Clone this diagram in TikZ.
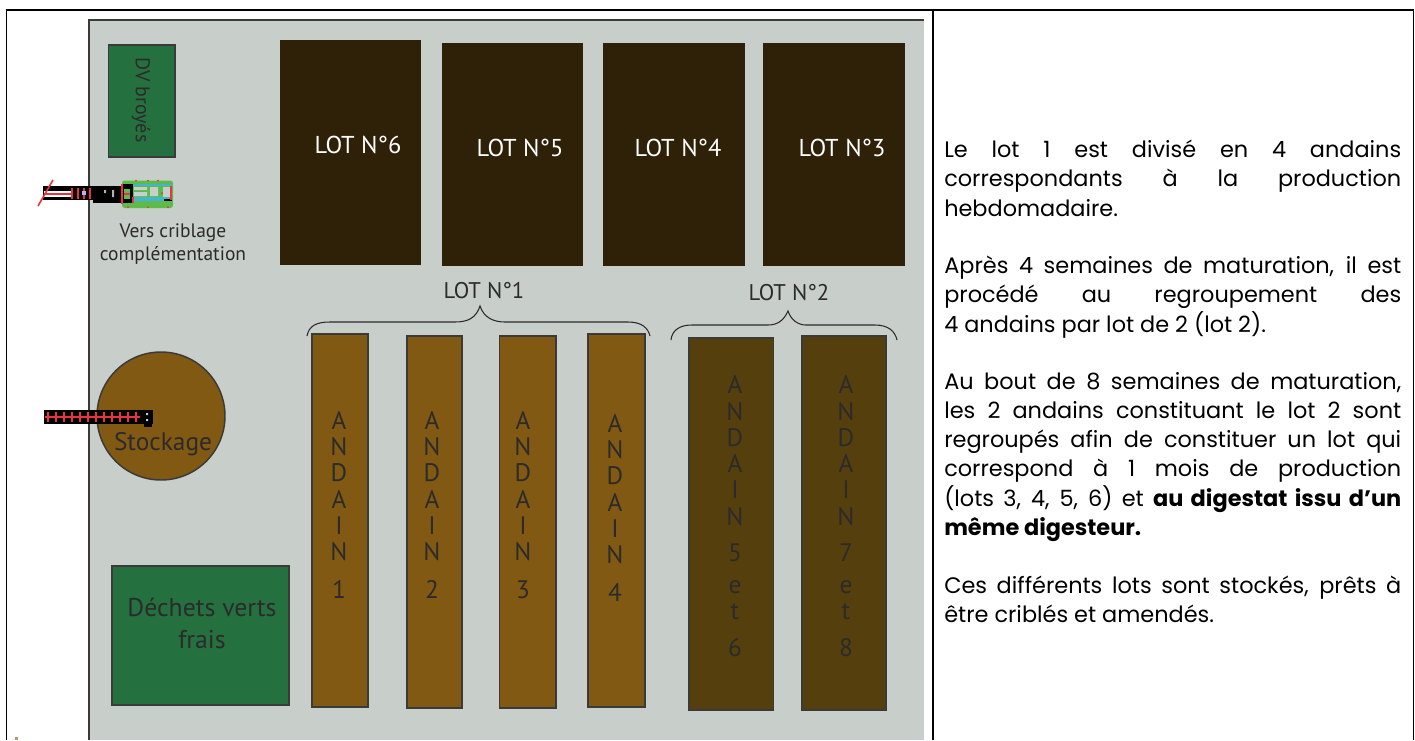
\documentclass[tikz,border=0pt]{standalone}
\usepackage{fontspec}
\setmainfont{PT Sans}
\newfontfamily\notefont{Poppins}
\definecolor{panel}{HTML}{C8CEC9}
\definecolor{greenb}{HTML}{25703F}
\definecolor{darkl}{HTML}{2F2108}
\definecolor{brownA}{HTML}{825912}
\definecolor{brownB}{HTML}{55400D}
\definecolor{edge}{HTML}{3A3A38}
\definecolor{ink}{HTML}{2B2B2B}
\definecolor{vgreen}{HTML}{5DBB4A}
\definecolor{vcyan}{HTML}{45B5CE}
\definecolor{vred}{HTML}{E8343A}
\tikzset{
  shp/.style={draw=edge,line width=1.1pt},
  lottxt/.style={text=white,font=\fontsize{18.3}{20}\selectfont},
  lab/.style={text=ink,font=\fontsize{15.5}{18}\selectfont,align=center},
  vert/.style={text=ink,font=\fontsize{19}{19.7}\selectfont,align=center,anchor=north,inner sep=0pt},
  vertd/.style={vert,text=ink},
  note/.style={font=\notefont\fontsize{16.8}{21.9}\selectfont,text width=342.75pt,align=justify,anchor=north west,inner sep=0pt,text=black},
  brace/.style={draw=ink,line width=0.8pt},
  redtick/.style={draw=vred,line width=0.8pt}
}
\begin{document}
\begin{tikzpicture}[x=0.75pt,y=-0.75pt]
\useasboundingbox (0,0) rectangle (1415,740);
\fill[white] (0,0) rectangle (1415,740);
% panel
\fill[panel] (89,20) rectangle (924,740);
\draw[edge,line width=1pt] (89,740) -- (89,20) -- (924,20);
% table frame
\draw[black,line width=1.1pt] (6.5,740) -- (6.5,10) -- (1413.5,10) -- (1413.5,740);
\draw[black,line width=1.1pt] (933,10) -- (933,740);
\fill[brownA!60!white] (15,737) rectangle (18,740);
% top rectangles
\draw[shp,fill=greenb] (108.5,45) rectangle (175,157);
\node[rotate=-90,text=ink,font=\fontsize{15}{16}\selectfont] (dv) at (141,100) {DV broyés};
\fill[darkl] (279.5,40) rectangle (421,265);
\fill[darkl] (441.5,43) rectangle (583,266);
\fill[darkl] (602.5,43) rectangle (745,266);
\fill[darkl] (763,43) rectangle (905,266);
\node[lottxt] (l6) at (358,145) {LOT N°6};
\node[lottxt] (l5) at (520,148) {LOT N°5};
\node[lottxt] (l4) at (678,148) {LOT N°4};
\node[lottxt] (l3) at (842,148) {LOT N°3};
% lot labels & braces
\node[lab,font=\fontsize{17}{20}\selectfont] (lot1) at (484,291) {LOT N°1};
\node[lab,font=\fontsize{17}{20}\selectfont] (lot2) at (789,293) {LOT N°2};
\draw[brace] (307,336) .. controls (309,326) and (316,322) .. (330,322) -- (455,322) .. controls (468,322) and (476,318) .. (480,306) .. controls (484,318) and (494,322) .. (505,322) -- (628,322) .. controls (642,322) and (648,328) .. (650,336);
\draw[brace] (671,340) .. controls (672,330) and (680,325) .. (692,325) -- (768,325) .. controls (778,325) and (784,320) .. (788,311) .. controls (791,320) and (798,325) .. (806,325) -- (875,325) .. controls (888,325) and (895,331) .. (897,340);
% andains
\draw[shp,fill=brownA] (312,334) rectangle (368,707);
\draw[shp,fill=brownA] (407,336) rectangle (462,708);
\draw[shp,fill=brownA] (499.5,336) rectangle (556,708);
\draw[shp,fill=brownA] (588,334) rectangle (645,707);
\draw[shp,fill=brownB] (689,338) rectangle (773.5,710);
\draw[shp,fill=brownB] (802,336) rectangle (886,710);
\node[vert] (a1) at (339,411) {A\\N\\D\\A\\I\\N\\[9pt]1};
\node[vert] (a2) at (432,411) {A\\N\\D\\A\\I\\N\\[9pt]2};
\node[vert] (a3) at (523,411) {A\\N\\D\\A\\I\\N\\[9pt]3};
\node[vert] (a4) at (615,414) {A\\N\\D\\A\\I\\N\\[9pt]4};
\node[vertd] (a5) at (735,375.5) {A\\N\\D\\A\\I\\N\\[7.5pt]5\\[4.5pt]e\\t\\[7.5pt]6};
\node[vertd] (a7) at (846,375.5) {A\\N\\D\\A\\I\\N\\[7.5pt]7\\[4.5pt]e\\t\\[7.5pt]8};
% stockage and fresh waste
\draw[shp,fill=brownA] (161,416) circle[radius=64];
\node[lab,font=\fontsize{19}{22}\selectfont] (st) at (163,444) {Stockage};
\draw[shp,fill=greenb] (112,566) rectangle (289,705);
\node[lab,font=\fontsize{19.3}{24}\selectfont] (dvf) at (202,623) {Déchets verts\\frais};
\node[lab,font=\fontsize{14.6}{17}\selectfont] (vc) at (173,244) {Vers criblage\\complémentation};
% upper conveyor
\fill[black] (43,186) rectangle (122,200);
\fill[black] (93,186) rectangle (122,203);
\fill[white] (44,191) rectangle (72,193.5);
\fill[white] (44,195) rectangle (72,196.5);
\draw[vred,line width=1.2pt] (38,206) -- (53,180);
\draw[vred,line width=0.8pt] (44,194) -- (72,194);
\foreach \x in {72,78,84,90}{\draw[redtick] (\x,188) -- (\x,199);}
\fill[white!70!blue] (82,191) rectangle (86,195);
\fill[white!70!black] (104,190) rectangle (106,193) (112,190) rectangle (114,197);
% vehicle
\fill[vgreen,rounded corners=2pt] (122,180.5) rectangle (173,208);
\fill[black] (121,184) rectangle (133,203);
\fill[vgreen] (124,189) rectangle (130,199);
\fill[vred] (124,193) rectangle (130,195);
\fill[panel] (134,187) rectangle (147,190) (134,192) rectangle (147,196) (150,187) rectangle (158,196);
\fill[panel] (163,187) rectangle (170,199);
\fill[vcyan] (133,184) rectangle (172,186) (133,197) rectangle (172,201);
\fill[black] (164,199) rectangle (172,201);
\draw[redtick,line width=1pt] (122,184) -- (122,204) (133,197) -- (133,203) (171,186) -- (171,200);
\fill[vred] (136,180.5) circle[radius=1] (148,180.5) circle[radius=1] (158,180.5) circle[radius=1] (128,207) circle[radius=1] (148,207) circle[radius=1] (168,207) circle[radius=1] (162,193) circle[radius=1];
% lower conveyor
\fill[black] (44,410) rectangle (153,424);
\fill[black] (144,424) rectangle (152,427);
\draw[white,line width=2pt] (45,417) -- (140,417);
\draw[vred,line width=0.9pt] (45,417) -- (140,417);
\foreach \x in {48,56,64,72,80,88,96,104,112,120,128,136}{\draw[redtick] (\x,412) -- (\x,422);}
\fill[white!80!black] (146,413) rectangle (148,415) (146,419) rectangle (148,421);
% text
\node[note] (p1) at (944,140) {Le lot 1 est divisé en 4 andains\linebreak correspondants à la production\linebreak hebdomadaire.};
\node[note] (p2) at (944,256) {Après 4 semaines de maturation, il est\linebreak procédé au regroupement des\linebreak 4 andains par lot de 2 (lot 2).};
\node[note] (p3) at (944,372) {Au bout de 8 semaines de maturation,\linebreak les 2 andains constituant le lot 2 sont\linebreak regroupés afin de constituer un lot qui\linebreak correspond à 1 mois de production\linebreak (lots 3, 4, 5, 6) et \textbf{au digestat issu d’un\linebreak même digesteur.}};
\node[note] (p4) at (944,576) {Ces différents lots sont stockés, prêts à\linebreak être criblés et amendés.};
\end{tikzpicture}
\end{document}
